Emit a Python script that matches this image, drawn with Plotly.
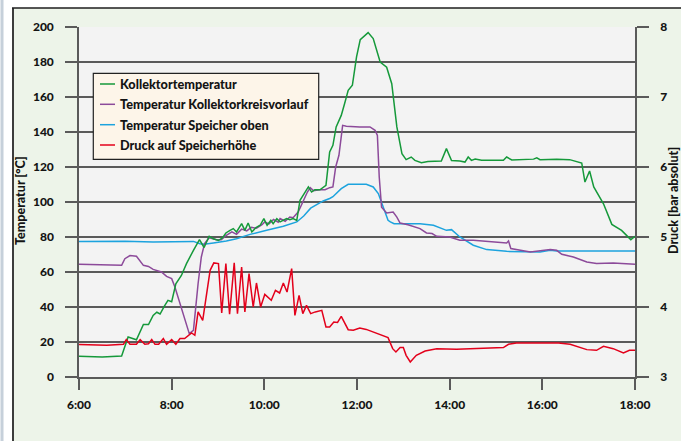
import plotly.graph_objects as go

# ---------------- data ----------------
series_names = ["Kollektortemperatur", "Temperatur Kollektorkreisvorlauf",
                "Temperatur Speicher oben", "Druck auf Speicherhöhe"]
series_colors = ["#15993a", "#8c4a9a", "#1ca3de", "#e3001b"]

x_tick_vals = [6, 8, 10, 12, 14, 16, 18]
x_tick_text = ["6:00", "8:00", "10:00", "12:00", "14:00", "16:00", "18:00"]

# Kollektortemperatur (hours, °C)
green_t = [6.00, 6.50, 6.92, 7.06, 7.24, 7.32, 7.39, 7.50, 7.60, 7.68, 7.75, 7.84, 7.92, 8.00,
           8.09, 8.21, 8.32, 8.47, 8.60, 8.70, 8.81, 8.90, 9.01, 9.10, 9.17, 9.26, 9.33, 9.40,
           9.51, 9.58, 9.65, 9.73, 9.82, 9.91, 9.99, 10.06, 10.14, 10.19, 10.27, 10.34, 10.48,
           10.55, 10.62, 10.70, 10.77, 10.88, 10.95, 11.02, 11.09, 11.20, 11.33, 11.41, 11.48,
           11.55, 11.66, 11.73, 11.81, 11.90, 11.99, 12.07, 12.24, 12.35, 12.50, 12.64, 12.75,
           12.86, 12.97, 13.06, 13.17, 13.25, 13.39, 13.53, 13.82, 13.93, 14.04, 14.22, 14.33,
           14.40, 14.47, 14.55, 14.69, 15.16, 15.23, 15.34, 15.81, 15.88, 15.95, 16.31, 16.59,
           16.85, 16.92, 17.02, 17.11, 17.32, 17.50, 17.71, 17.91, 18.00]
green_v = [11.8, 11.5, 12.0, 22.9, 21.3, 25.7, 30.0, 30.0, 35.2, 37.0, 36.0, 40.4, 43.8, 43.0,
           53.3, 58.0, 64.8, 72.4, 78.5, 74.0, 80.4, 79.0, 78.0, 79.6, 82.3, 83.8, 84.8, 82.9,
           87.6, 83.8, 88.0, 82.9, 85.4, 86.7, 90.5, 86.7, 89.5, 87.6, 90.5, 88.6, 90.5,
           89.9, 90.5, 89.5, 101.0, 105.7, 108.6, 105.7, 107.0, 107.0, 109.5, 128.6, 132.4,
           142.9, 149.5, 156.0, 163.8, 166.7, 182.9, 192.8, 196.8, 193.4, 180.0, 177.0, 167.6,
           142.9, 127.6, 124.2, 125.7, 123.8, 122.5, 123.2, 123.4, 130.5, 123.7, 123.4, 122.8,
           125.7, 123.8, 124.5, 123.8, 123.8, 125.7, 124.0, 124.5, 125.3, 124.2, 124.5, 124.2,
           122.3, 111.4, 117.7, 108.6, 99.0, 87.2, 83.8, 78.5, 80.4]

# Temperatur Kollektorkreisvorlauf (hours, °C)
purple_t = [6.00, 6.50, 6.92, 6.99, 7.10, 7.24, 7.39, 7.50, 7.60, 7.78, 7.89, 8.00, 8.07, 8.38,
            8.47, 8.57, 8.64, 8.71, 8.81, 8.97, 9.07, 9.18, 9.30, 9.40, 9.51, 9.62, 9.72, 9.83,
            9.95, 10.01, 10.10, 10.20, 10.30, 10.34, 10.45, 10.55, 10.62, 10.73, 10.84, 10.93,
            10.99, 11.06, 11.20, 11.31, 11.41, 11.48, 11.54, 11.61, 11.69, 11.77, 12.06, 12.28,
            12.39, 12.44, 12.48, 12.53, 12.64, 12.78, 12.86, 12.93, 13.10, 13.36, 13.50, 13.62,
            13.72, 14.00, 14.22, 14.51, 15.23, 15.27, 15.32, 15.52, 15.74, 16.17, 16.31, 16.42,
            16.67, 16.96, 17.17, 17.53, 17.82, 18.00]
purple_v = [64.4, 64.0, 63.8, 67.6, 69.4, 69.0, 63.8, 63.2, 61.5, 60.0, 57.5, 56.2, 51.4, 24.8,
            26.7, 53.3, 68.6, 76.2, 79.6, 78.5, 78.5, 81.0, 83.0, 81.5, 84.5, 83.5, 85.5, 85.0,
            87.0, 88.6, 87.5, 90.0, 88.5, 90.5, 89.0, 91.4, 91.0, 94.3, 101.0, 105.7,
            108.2, 106.5, 107.0, 107.0, 108.2, 108.6, 120.0, 126.7, 143.8, 143.3, 142.9, 142.9,
            141.0, 138.0, 114.3, 97.0, 93.7, 94.3, 91.4, 88.0, 87.0, 84.8, 82.3, 82.0,
            80.4, 80.0, 78.1, 78.1, 76.6, 77.7, 73.4, 72.4, 71.4, 72.8, 72.4, 70.1,
            68.6, 65.7, 64.8, 65.1, 64.8, 64.4]

# Temperatur Speicher oben (hours, °C)
blue_t = [6.00, 7.00, 7.60, 8.00, 8.47, 8.61, 8.70, 8.90, 9.18, 9.40, 9.69, 10.05, 10.41, 10.70,
          10.85, 11.00, 11.13, 11.27, 11.41, 11.48, 11.66, 11.81, 12.20, 12.35, 12.46, 12.56,
          12.67, 12.72, 12.80, 13.36, 13.65, 13.93, 14.04, 14.22, 14.51, 14.80, 15.23, 15.95,
          16.17, 16.31, 18.00]
blue_v = [77.5, 77.6, 77.1, 77.4, 77.5, 76.2, 75.8, 76.6, 77.7, 79.0, 81.5, 83.8, 86.1, 88.6,
          92.0, 96.5, 98.7, 100.6, 102.0, 103.0, 107.6, 110.1, 110.1, 108.6, 104.8, 97.1,
          89.5, 88.6, 87.6, 87.6, 86.7, 83.8, 84.2, 80.0, 75.3, 72.8, 71.8, 71.4,
          72.4, 72.0, 72.0]

# Druck auf Speicherhöhe (hours, bar absolut)
red_t = [6.00, 6.60, 6.96, 7.02, 7.10, 7.24, 7.32, 7.42, 7.50, 7.57, 7.64, 7.72, 7.82, 7.89,
         8.00, 8.09, 8.18, 8.28, 8.43, 8.50, 8.57, 8.67, 8.83, 8.91, 9.01, 9.08, 9.17, 9.25,
         9.35, 9.42, 9.51, 9.58, 9.67, 9.76, 9.83, 9.92, 10.01, 10.15, 10.24, 10.33, 10.41,
         10.49, 10.59, 10.66, 10.75, 10.83, 10.91, 11.00, 11.10, 11.24, 11.33, 11.41, 11.50,
         11.58, 11.66, 11.81, 11.92, 12.06, 12.20, 12.35, 12.50, 12.67, 12.77, 12.84, 12.93,
         13.00, 13.06, 13.15, 13.28, 13.47, 13.72, 14.15, 15.16, 15.27, 15.44, 15.95, 16.35,
         16.60, 16.96, 17.17, 17.32, 17.53, 17.75, 17.88, 18.00]
red_v = [3.463, 3.453, 3.467, 3.534, 3.467, 3.467, 3.534, 3.467, 3.474, 3.534, 3.467, 3.467,
         3.549, 3.467, 3.534, 3.467, 3.549, 3.549, 3.629, 3.596, 3.929, 3.810, 4.524, 4.630,
         4.620, 3.914, 4.620, 3.896, 4.630, 3.905, 4.572, 3.929, 4.477, 4.000, 4.343, 4.000,
         4.181, 4.096, 4.239, 4.200, 4.343, 4.214, 4.548, 3.881, 4.167, 3.905, 4.024, 3.905,
         3.930, 3.953, 3.714, 3.714, 3.786, 3.780, 3.867, 3.676, 3.667, 3.700, 3.680, 3.643,
         3.596, 3.563, 3.405, 3.357, 3.420, 3.420, 3.310, 3.214, 3.310, 3.371, 3.405, 3.396,
         3.420, 3.467, 3.486, 3.486, 3.486, 3.467, 3.391, 3.381, 3.438, 3.405, 3.343, 3.381,
         3.381]

# ---------------- figure ----------------
W, H = 681, 441
PL, PR, PT, PB = 79, 635, 27, 377   # plot area in pixels


def px(x):
    return (x - PL) / (PR - PL)


def py(y):
    return (PB - y) / (PB - PT)


FONT = "Lato"
GRID = "#5a5a5a"
TXT = "#141414"

fig = go.Figure()
fig.add_trace(go.Scatter(x=blue_t, y=blue_v, mode="lines", name=series_names[2],
                         line=dict(color=series_colors[2], width=1.5), showlegend=False))
fig.add_trace(go.Scatter(x=purple_t, y=purple_v, mode="lines", name=series_names[1],
                         line=dict(color=series_colors[1], width=1.5), showlegend=False))
fig.add_trace(go.Scatter(x=green_t, y=green_v, mode="lines", name=series_names[0],
                         line=dict(color=series_colors[0], width=1.5), showlegend=False))
fig.add_trace(go.Scatter(x=red_t, y=red_v, mode="lines", name=series_names[3], yaxis="y2",
                         line=dict(color=series_colors[3], width=1.5), showlegend=False))

tickfont = dict(family=FONT, size=12, color=TXT, weight=900)

fig.update_layout(
    width=W, height=H,
    margin=dict(l=PL, r=W - PR, t=PT, b=H - PB, pad=0, autoexpand=False),
    paper_bgcolor="#edf4e9",
    plot_bgcolor="#f3f3f3",
    showlegend=False,
    xaxis=dict(range=[6, 18], tickvals=x_tick_vals, ticktext=x_tick_text, automargin=False,
               ticks="outside", ticklen=11, tickwidth=1.5, tickcolor=GRID,
               showgrid=False, zeroline=False, showline=True, linecolor=GRID, linewidth=1.5,
               tickfont=tickfont, ticklabelstandoff=5),
    yaxis=dict(range=[0, 200], dtick=20, tick0=0, automargin=False,
               ticks="outside", ticklen=12, tickwidth=1.5, tickcolor=GRID,
               showgrid=True, gridcolor=GRID, gridwidth=1.5, zeroline=False,
               showline=True, linecolor=GRID, linewidth=1.5,
               tickfont=tickfont, ticklabelstandoff=9),
    yaxis2=dict(range=[3, 8], dtick=1, tick0=3, overlaying="y", side="right", automargin=False,
                ticks="outside", ticklen=12, tickwidth=1.5, tickcolor=GRID,
                showgrid=False, zeroline=False, showline=True, linecolor=GRID, linewidth=1.5,
                tickfont=tickfont, ticklabelstandoff=9),
)

shapes = []
# outer white strip + frame
shapes.append(dict(type="rect", xref="paper", yref="paper", x0=px(0), x1=px(13), y0=py(H), y1=py(0),
                   fillcolor="white", line=dict(width=0), layer="above"))
shapes.append(dict(type="rect", xref="paper", yref="paper", x0=px(0), x1=px(W), y0=py(8), y1=py(0),
                   fillcolor="white", line=dict(width=0), layer="above"))
shapes.append(dict(type="line", xref="paper", yref="paper", x0=px(2), x1=px(2), y0=py(H), y1=py(0),
                   line=dict(color="#c6d0da", width=3), layer="above"))
shapes.append(dict(type="line", xref="paper", yref="paper", x0=px(13), x1=px(13), y0=py(H), y1=py(8),
                   line=dict(color="#3c3c3c", width=2), layer="above"))
shapes.append(dict(type="line", xref="paper", yref="paper", x0=px(12), x1=px(W), y0=py(8), y1=py(8),
                   line=dict(color="#1e1e1e", width=1.5), layer="above"))

# legend box
LX0, LX1, LY0, LY1 = 93.3, 318.7, 73.3, 159.3
shapes.append(dict(type="rect", xref="paper", yref="paper", x0=px(LX0), x1=px(LX1), y0=py(LY1), y1=py(LY0),
                   fillcolor="#fdf5e9", line=dict(color="#222222", width=1.2), layer="above"))
annotations = []
row_y = [84.0, 104.3, 124.7, 145.0]
for name, col, yy in zip(series_names, series_colors, row_y):
    shapes.append(dict(type="line", xref="paper", yref="paper", x0=px(100), x1=px(115), y0=py(yy), y1=py(yy),
                       line=dict(color=col, width=1.5), layer="above"))
    annotations.append(dict(xref="paper", yref="paper", x=px(117.5), y=py(yy), text=name, showarrow=False,
                            xanchor="left", yanchor="middle",
                            font=dict(family=FONT, size=12.7, color=TXT, weight=900)))

# axis titles
annotations.append(dict(xref="paper", yref="paper", x=px(20), y=py(201), text="Temperatur [°C]",
                        showarrow=False, textangle=-90, xanchor="center", yanchor="middle",
                        font=dict(family=FONT, size=12.5, color=TXT, weight=900)))
annotations.append(dict(xref="paper", yref="paper", x=px(673), y=py(201), text="Druck [bar absolut]",
                        showarrow=False, textangle=-90, xanchor="center", yanchor="middle",
                        font=dict(family=FONT, size=12.5, color=TXT, weight=900)))

fig.update_layout(shapes=shapes, annotations=annotations)

fig.write_html("out.html", config={"displayModeBar": False},
               post_script="document.body.style.margin='0';document.body.style.padding='0';"
                           "document.documentElement.style.overflow='hidden';")
